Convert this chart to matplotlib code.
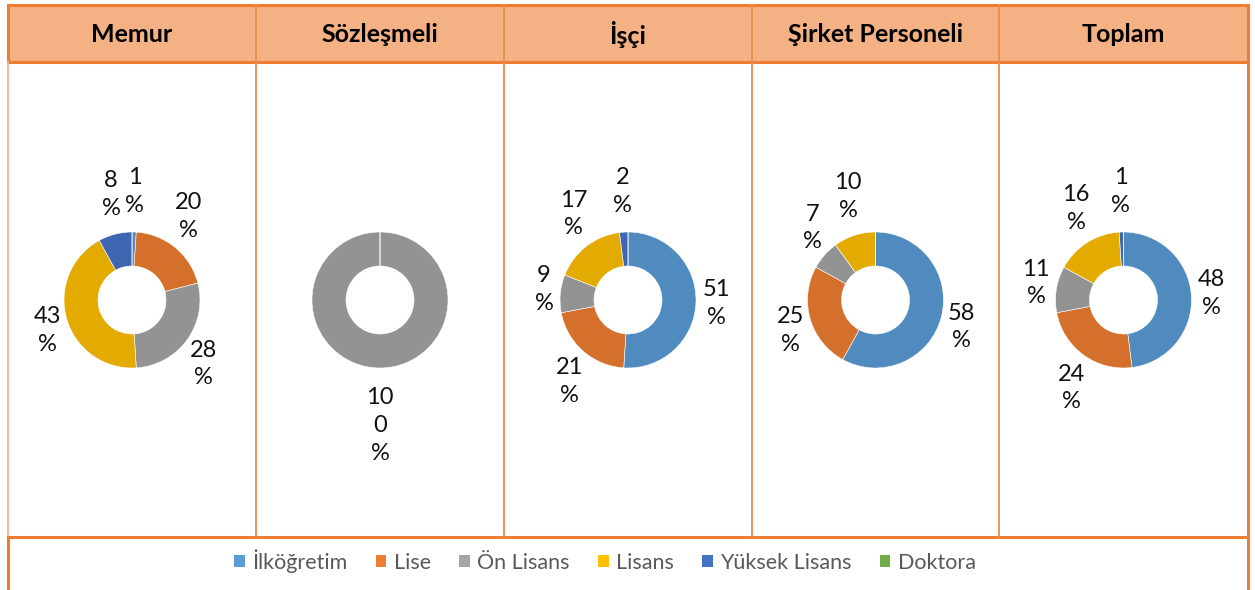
import numpy as np
import matplotlib
matplotlib.use("Agg")
import matplotlib.pyplot as plt
from matplotlib.patches import Patch, Rectangle

plt.rcParams['font.family'] = ['Lato', 'DejaVu Sans']

# data
groups = ['Memur', 'Sözleşmeli', 'İşçi', 'Şirket Personeli', 'Toplam']
levels = ['İlköğretim', 'Lise', 'Ön Lisans', 'Lisans', 'Yüksek Lisans', 'Doktora']
memur = [1, 20, 28, 43, 8, 0]
sozlesmeli = [0, 0, 100, 0, 0, 0]
isci = [51, 21, 9, 17, 2, 0]
sirket = [58, 25, 7, 10, 0, 0]
toplam = [48, 24, 11, 16, 1, 0]
shares = [memur, sozlesmeli, isci, sirket, toplam]

slice_colors = ['#4F8BBF', '#D4702C', '#939393', '#E3AB00', '#3F67B1', '#6A9F42']
legend_colors = ['#5B9BD5', '#ED7D31', '#A5A5A5', '#FFC000', '#4472C4', '#70AD47']
border = '#ED7D31'
header_fill = '#F4B183'

W, H = 1255, 590
fig = plt.figure(figsize=(W / 100, H / 100), dpi=100)

# table frame drawn in pixel coordinates
bg = fig.add_axes([0, 0, 1, 1])
bg.set_xlim(0, W)
bg.set_ylim(H, 0)
bg.axis('off')

cols = [8, 256, 504, 752, 999, 1248]
top, head_bot, tab_bot = 5, 62, 537
bg.add_patch(Rectangle((cols[0], top), cols[-1] - cols[0], head_bot - top,
                       facecolor=header_fill, edgecolor='none'))
thick, thin = 2.2, 1.3
bg.plot([cols[0], cols[-1]], [top, top], color=border, lw=thick)
bg.plot([cols[0], cols[-1]], [head_bot, head_bot], color=border, lw=thick)
bg.plot([cols[0], cols[-1]], [tab_bot, tab_bot], color=border, lw=thick)
bg.plot([cols[0], cols[0]], [top, head_bot], color=border, lw=thick)
bg.plot([cols[0], cols[0]], [head_bot, tab_bot], color='#F6B48A', lw=thin)
bg.plot([cols[0], cols[0]], [tab_bot, H], color=border, lw=thick)
bg.plot([cols[-1], cols[-1]], [top, H], color=border, lw=thick)
for x in cols[1:-1]:
    bg.plot([x, x], [top, tab_bot], color='#F08A4B', lw=thin)

for i, g in enumerate(groups):
    cx = (cols[i] + cols[i + 1]) / 2
    bg.text(cx, 34, g, ha='center', va='center', fontsize=18, fontweight='bold', color='black')

# donuts
R_px = 68
size = 250
lim = size / 2 / R_px
cy = 300
for i, vals in enumerate(shares):
    cx = (cols[i] + cols[i + 1]) / 2
    ax = fig.add_axes([(cx - size / 2) / W, 1 - (cy + size / 2) / H, size / W, size / H])
    ax.pie(vals, colors=slice_colors, startangle=90, counterclock=False,
           radius=1, wedgeprops=dict(width=0.5, edgecolor='white', linewidth=0.4))
    ax.set_xlim(-lim, lim)
    ax.set_ylim(-lim, lim)
    ax.set_aspect('equal')
    ax.axis('off')
    total = sum(vals)
    cum = 0
    for v in vals:
        if v == 0:
            continue
        mid = (cum + v / 2) / total * 2 * np.pi
        cum += v
        s = str(v)
        if len(s) > 2:
            s = s[:2] + '\n' + s[2:]
        txt = s + '\n%'
        nlines = txt.count('\n') + 1
        hw = 0.08 + 0.06 * min(len(str(v)), 2)
        hh = 0.25 * nlines
        sx, sy = np.sin(mid), np.cos(mid)
        px = 1.1 * sx + hw * sx
        py = 1.1 * sy + hh * sy
        ax.text(px, py, txt, ha='center', va='center', fontsize=17,
                linespacing=1.4, color='#111111', clip_on=False)

handles = [Patch(facecolor=c, edgecolor='none') for c in legend_colors]
fig.legend(handles, levels, loc='center', bbox_to_anchor=(605 / W, 1 - 561 / H), ncol=6,
           frameon=False, fontsize=15.5, handlelength=0.5, handleheight=0.5,
           handletextpad=0.35, columnspacing=1.3, labelcolor='#595959')

fig.savefig('out.png', dpi=100)
